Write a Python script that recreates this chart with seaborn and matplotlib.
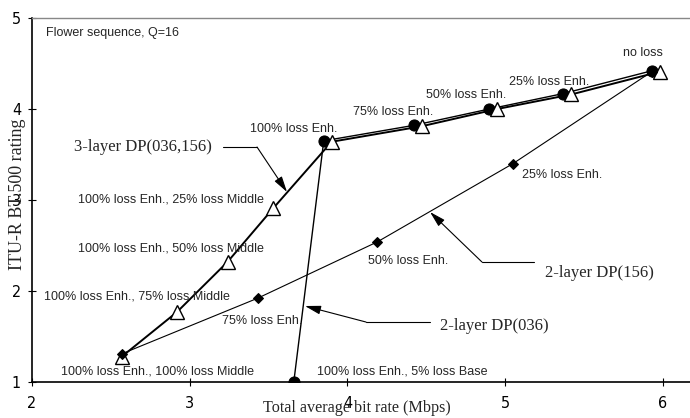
import seaborn as sns
import pandas as pd
import matplotlib.pyplot as plt

# data
rate_3layer = [2.57, 2.92, 3.24, 3.53, 3.90, 4.47, 4.95, 5.42, 5.98]
mos_3layer = [1.28, 1.77, 2.32, 2.91, 3.64, 3.81, 4.00, 4.16, 4.41]
rate_036 = [3.66, 3.85, 4.42, 4.90, 5.37, 5.93]
mos_036 = [1.00, 3.65, 3.82, 4.00, 4.17, 4.42]
rate_156 = [2.57, 3.43, 4.19, 5.05, 5.93]
mos_156 = [1.31, 1.92, 2.54, 3.40, 4.41]

x_ticks = [2, 3, 4, 5, 6]
y_ticks = [1, 2, 3, 4, 5]

# point labels (text, x, y) - left aligned
point_labels = [
    ("Flower sequence, Q=16", 2.089, 4.835),
    ("100% loss Enh.", 3.382, 3.780),
    ("75% loss Enh.", 4.035, 3.967),
    ("50% loss Enh.", 4.498, 4.154),
    ("25% loss Enh.", 5.025, 4.297),
    ("no loss", 5.748, 4.615),
    ("25% loss Enh.", 5.107, 3.275),
    ("100% loss Enh., 25% loss Middle", 2.292, 3.000),
    ("100% loss Enh., 50% loss Middle", 2.292, 2.462),
    ("100% loss Enh., 75% loss Middle", 2.076, 1.945),
    ("75% loss Enh.", 3.205, 1.670),
    ("50% loss Enh.", 4.131, 2.330),
    ("100% loss Enh., 100% loss Middle", 2.184, 1.110),
    ("100% loss Enh., 5% loss Base", 3.807, 1.110),
]

df3 = pd.DataFrame({"rate": rate_3layer, "mos": mos_3layer})
d036 = pd.DataFrame({"rate": rate_036, "mos": mos_036})
d156 = pd.DataFrame({"rate": rate_156, "mos": mos_156})

sns.set_style("white")
plt.rcParams['font.family'] = ['Liberation Sans', 'DejaVu Sans']

fig = plt.figure(figsize=(6.9, 4.18), dpi=100)
ax = fig.add_axes([32 / 690, 36 / 418, 658 / 690, 364 / 418])

sns.lineplot(data=d036, x="rate", y="mos", sort=False, color="black", lw=1.0,
             marker="o", markersize=8, markerfacecolor="black",
             markeredgecolor="black", ax=ax, zorder=2)
sns.lineplot(data=df3, x="rate", y="mos", sort=False, color="black", lw=1.4,
             marker="^", markersize=10, markerfacecolor="white",
             markeredgecolor="black", markeredgewidth=1.0, ax=ax, zorder=3)
sns.lineplot(data=d156, x="rate", y="mos", sort=False, color="black", lw=0.8,
             marker="D", markersize=5.5, markerfacecolor="black",
             markeredgecolor="black", ax=ax, zorder=4)

for txt, x, y in point_labels:
    ax.text(x, y, txt, fontsize=9, ha="left", va="center", zorder=5)

# leader lines with arrows
serif = ['Liberation Serif', 'DejaVu Serif']
arrow = dict(arrowstyle="-|>,head_length=0.8,head_width=0.22", color="black",
             lw=0.8, mutation_scale=12, shrinkA=0, shrinkB=0)

ax.plot([3.211, 3.427], [3.582, 3.582], color="black", lw=0.8)
ax.annotate("", xy=(3.617, 3.088), xytext=(3.427, 3.582), arrowprops=arrow)
ax.text(3.141, 3.582, "3-layer DP(036,156)", family=serif, fontsize=12,
        ha="right", va="center")

ax.plot([4.853, 5.183], [2.319, 2.319], color="black", lw=0.8)
ax.annotate("", xy=(4.524, 2.868), xytext=(4.853, 2.319), arrowprops=arrow)
ax.text(5.253, 2.198, "2-layer DP(156)", family=serif, fontsize=12,
        ha="left", va="center")

ax.plot([4.118, 4.524], [1.659, 1.659], color="black", lw=0.8)
ax.annotate("", xy=(3.731, 1.835), xytext=(4.118, 1.659), arrowprops=arrow)
ax.text(4.587, 1.615, "2-layer DP(036)", family=serif, fontsize=12,
        ha="left", va="center")

ax.set_xlim(2, 2 + 658 / 157.7)
ax.set_ylim(1, 5)
ax.set_xticks(x_ticks)
ax.set_yticks(y_ticks)
ax.set_xticklabels([str(t) for t in x_ticks], family="DejaVu Sans",
                   stretch="condensed", fontsize=11.5)
ax.set_yticklabels([str(t) for t in y_ticks], family="DejaVu Sans",
                   stretch="condensed", fontsize=11.5)
ax.tick_params(axis="both", direction="inout", length=6, width=0.8,
               bottom=True, left=True, colors="black")
ax.tick_params(axis="x", pad=7)
ax.tick_params(axis="y", pad=5)

ax.set_xlabel("Total average bit rate (Mbps)", family=serif, fontsize=11.6)
ax.set_ylabel("ITU-R BT.500 rating", family=serif, fontsize=13)
ax.xaxis.set_label_coords(0.494, -0.072)
ax.xaxis.label.set_va("center")
ax.yaxis.set_label_coords(-0.022, 0.516)
ax.yaxis.label.set_va("center")

for side in ["left", "bottom"]:
    ax.spines[side].set_color("black")
    ax.spines[side].set_linewidth(1.2)
ax.spines["top"].set_color("#888888")
ax.spines["top"].set_linewidth(1.0)
ax.spines["right"].set_visible(False)

fig.savefig("out.png", dpi=100)
